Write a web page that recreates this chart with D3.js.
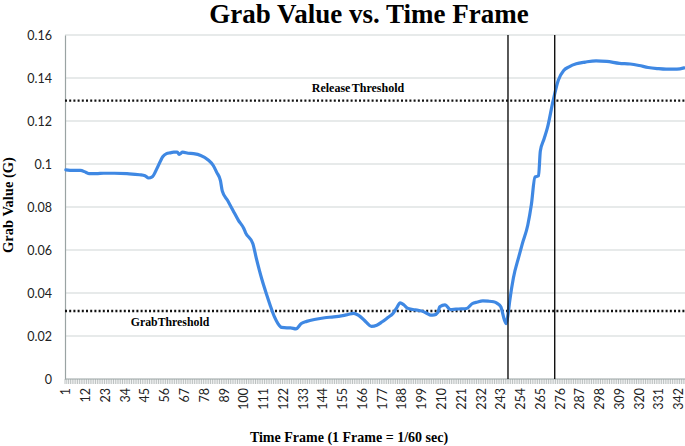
<!DOCTYPE html>
<html><head><meta charset="utf-8">
<script src="https://cdn.jsdelivr.net/npm/d3@7"></script>
<style>body{margin:0;background:#fff;} svg{display:block;}</style>
</head><body>
<svg id="c" width="685" height="446"></svg>
<script>
const frames = [1,5,9,12,14,18,22,28,35,42,45,47,49,52,55,57,59,61,63,64,66,69,72,76,80,83,85,87,88,91,94,97,100,101,105,107,110,113,115,117,119,121,124,126,129,132,135,140,145,150,155,158,161,163,165,168,171,174,177,180,183,185,187,189,191,194,197,199,202,204,206,208,209,212,215,218,221,224,227,230,233,236,239,241,243,245,246,247,248,250,253,255,258,260,262,264,265,267,269,272,275,278,281,285,290,296,302,309,315,320,325,330,335,341,345];
const grabValues = [0.0973,0.0970,0.0970,0.0962,0.0955,0.0955,0.0957,0.0957,0.0955,0.0950,0.0945,0.0935,0.0940,0.0985,0.1035,0.1048,0.1052,0.1055,0.1055,0.1045,0.1055,0.1050,0.1048,0.1040,0.1020,0.0993,0.0960,0.0923,0.0875,0.0830,0.0784,0.0738,0.0700,0.0680,0.0630,0.0560,0.0465,0.0385,0.0335,0.0290,0.0258,0.0240,0.0238,0.0238,0.0233,0.0258,0.0268,0.0278,0.0285,0.0289,0.0295,0.0300,0.0305,0.0300,0.0289,0.0265,0.0245,0.0250,0.0266,0.0285,0.0305,0.0330,0.0354,0.0345,0.0330,0.0323,0.0320,0.0316,0.0305,0.0297,0.0298,0.0310,0.0336,0.0345,0.0323,0.0325,0.0326,0.0328,0.0350,0.0358,0.0363,0.0362,0.0359,0.0352,0.0336,0.0275,0.0258,0.0300,0.0365,0.0470,0.0568,0.0630,0.0715,0.0810,0.0939,0.0945,0.1060,0.1115,0.1170,0.1290,0.1390,0.1435,0.1452,0.1466,0.1474,0.1480,0.1477,0.1468,0.1465,0.1458,0.1449,0.1444,0.1441,0.1441,0.1447];
const frameCount = 345;
const xTickLabels = [1,12,23,34,45,56,67,78,89,100,111,122,133,144,155,166,177,188,199,210,221,232,243,254,265,276,287,298,309,320,331,342];
const yTickValues = [0,0.02,0.04,0.06,0.08,0.1,0.12,0.14,0.16];
const thresholds = [{name:"Release Threshold", value:0.1295}, {name:"GrabThreshold", value:0.0316}];
const markerFrames = [247, 273];

const svg = d3.select("#c");
const L = 65, R = 685, T = 35, B = 379;
const x = d3.scaleLinear().domain([0.5, frameCount + 0.5]).range([L, R]);
const y = d3.scaleLinear().domain([0, 0.16]).range([B, T]);

// gridlines
svg.append("g").selectAll("line").data(yTickValues.filter(d => d > 0)).join("line")
  .attr("x1", L).attr("x2", R).attr("y1", d => y(d)).attr("y2", d => y(d))
  .attr("stroke", "#cfd6d6").attr("stroke-width", 1.2);

// y axis
const yAxis = d3.axisLeft(y).tickValues(yTickValues).tickSize(0).tickPadding(13)
  .tickFormat(d => d === 0 ? "0" : String(+d.toFixed(2)));
const gy = svg.append("g").attr("transform", `translate(${L},0)`).call(yAxis);
gy.select(".domain").attr("stroke", "#9aa3a3").attr("stroke-width", 1.2);
gy.selectAll("text").attr("font-family", "Lato, 'Open Sans', sans-serif").attr("font-size", 12.5).attr("fill", "#222");

// x axis baseline + dense ticks
const tickPos = d3.range(0, frameCount + 1).map(i => i + 0.5);
svg.append("g").selectAll("line").data(tickPos).join("line")
  .attr("x1", d => x(d)).attr("x2", d => x(d)).attr("y1", B).attr("y2", B + 5)
  .attr("stroke", "#a9b0b0").attr("stroke-width", 0.8);
svg.append("line").attr("x1", L).attr("x2", R).attr("y1", B).attr("y2", B)
  .attr("stroke", "#9aa3a3").attr("stroke-width", 1.2);

// x tick labels rotated
svg.append("g").selectAll("text").data(xTickLabels).join("text")
  .attr("transform", d => `translate(${x(d) + 4.5},${B + 9}) rotate(-90)`)
  .attr("text-anchor", "end")
  .attr("font-family", "Lato, 'Open Sans', sans-serif").attr("font-size", 12.5).attr("fill", "#222")
  .text(d => d);

// threshold lines
svg.append("g").selectAll("line").data(thresholds).join("line")
  .attr("x1", L).attr("x2", R).attr("y1", d => y(d.value)).attr("y2", d => y(d.value))
  .attr("stroke", "#111").attr("stroke-width", 2.4).attr("stroke-dasharray", "2 2.2");

// data line
const line = d3.line().x((d, i) => x(frames[i])).y(d => y(d)).curve(d3.curveMonotoneX);
svg.append("path").datum(grabValues).attr("d", line)
  .attr("fill", "none").attr("stroke", "#3f88e3").attr("stroke-width", 3.2)
  .attr("stroke-linejoin", "round").attr("stroke-linecap", "round");

// marker vertical lines
svg.append("g").selectAll("line").data(markerFrames).join("line")
  .attr("x1", d => x(d)).attr("x2", d => x(d)).attr("y1", T).attr("y2", B)
  .attr("stroke", "#111").attr("stroke-width", 1.4);

// threshold labels
svg.append("text").attr("x", 358).attr("y", y(thresholds[0].value) - 9)
  .attr("text-anchor", "middle").attr("font-family", "'Liberation Serif', serif").attr("font-weight", "bold")
  .attr("font-size", 12).attr("word-spacing", -1.5).text(thresholds[0].name);
svg.append("text").attr("x", 170).attr("y", y(thresholds[1].value) + 15)
  .attr("text-anchor", "middle").attr("font-family", "'Liberation Serif', serif").attr("font-weight", "bold")
  .attr("font-size", 11.8).text(thresholds[1].name);

// titles
svg.append("text").attr("x", 369).attr("y", 23).attr("text-anchor", "middle")
  .attr("font-family", "'Liberation Serif', serif").attr("font-weight", "bold").attr("font-size", 27)
  .text("Grab Value vs. Time Frame");
svg.append("text").attr("x", 349).attr("y", 442).attr("text-anchor", "middle")
  .attr("font-family", "'Liberation Serif', serif").attr("font-weight", "bold").attr("font-size", 14)
  .text("Time Frame (1 Frame = 1/60 sec)");
svg.append("text").attr("transform", "translate(13,205) rotate(-90)").attr("text-anchor", "middle")
  .attr("font-family", "'Liberation Serif', serif").attr("font-weight", "bold").attr("font-size", 14.5)
  .text("Grab Value (G)");
</script>
</body></html>
